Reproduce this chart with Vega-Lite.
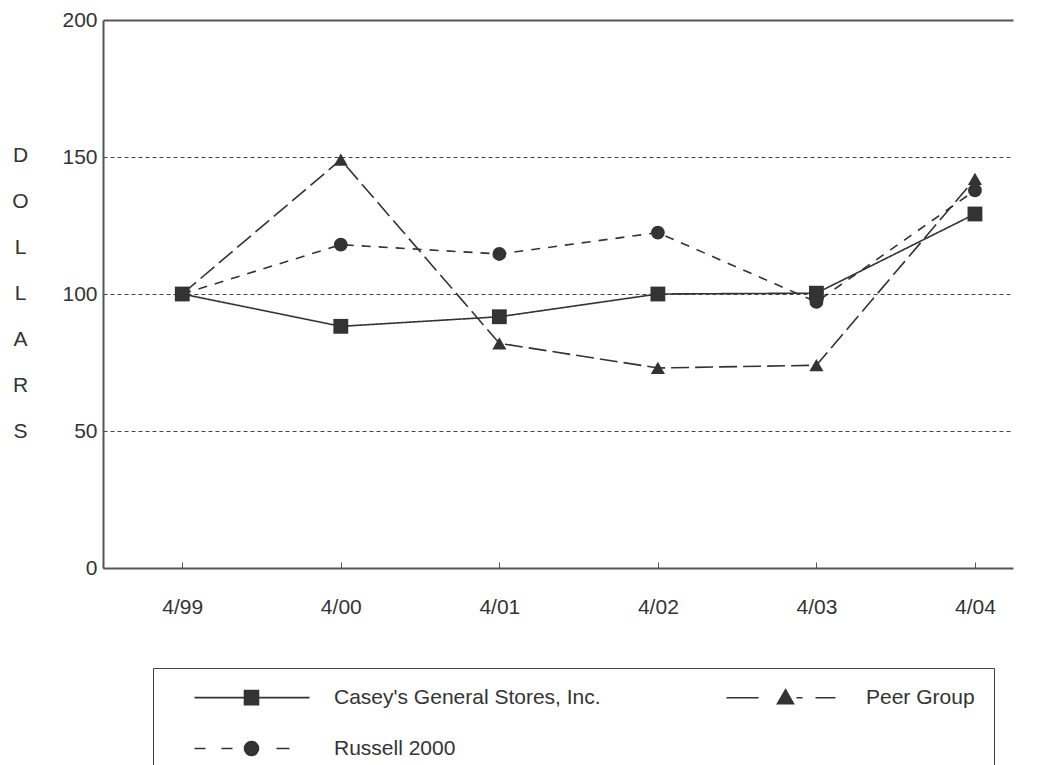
{
  "$schema": "https://vega.github.io/schema/vega-lite/v6.json",
  "autosize": "none",
  "width": 910,
  "height": 548,
  "padding": {"left": 103, "top": 20, "right": 30, "bottom": 197},
  "background": "white",
  "config": {"view": {"stroke": null}, "font": "Liberation Sans"},
  "data": {
    "values": [
      {"series": "Casey's General Stores, Inc.", "date": "4/99", "year": 1999, "value": 100},
      {"series": "Casey's General Stores, Inc.", "date": "4/00", "year": 2000, "value": 88.2},
      {"series": "Casey's General Stores, Inc.", "date": "4/01", "year": 2001, "value": 91.7},
      {"series": "Casey's General Stores, Inc.", "date": "4/02", "year": 2002, "value": 100},
      {"series": "Casey's General Stores, Inc.", "date": "4/03", "year": 2003, "value": 100.3},
      {"series": "Casey's General Stores, Inc.", "date": "4/04", "year": 2004, "value": 129.2},
      {"series": "Peer Group", "date": "4/99", "year": 1999, "value": 100},
      {"series": "Peer Group", "date": "4/00", "year": 2000, "value": 149},
      {"series": "Peer Group", "date": "4/01", "year": 2001, "value": 82},
      {"series": "Peer Group", "date": "4/02", "year": 2002, "value": 73},
      {"series": "Peer Group", "date": "4/03", "year": 2003, "value": 74},
      {"series": "Peer Group", "date": "4/04", "year": 2004, "value": 142},
      {"series": "Russell 2000", "date": "4/99", "year": 1999, "value": 100},
      {"series": "Russell 2000", "date": "4/00", "year": 2000, "value": 118},
      {"series": "Russell 2000", "date": "4/01", "year": 2001, "value": 114.6},
      {"series": "Russell 2000", "date": "4/02", "year": 2002, "value": 122.4},
      {"series": "Russell 2000", "date": "4/03", "year": 2003, "value": 97.1},
      {"series": "Russell 2000", "date": "4/04", "year": 2004, "value": 137.8}
    ]
  },
  "encoding": {
    "y": {
      "field": "value",
      "type": "quantitative",
      "scale": {"domain": [0, 200], "nice": false},
      "axis": {
        "values": [0, 50, 100, 150, 200],
        "ticks": false,
        "labelFontSize": 21,
        "labelColor": "#333",
        "labelPadding": 6,
        "domainColor": "#555",
        "domainWidth": 2,
        "grid": true,
        "gridColor": {"condition": {"test": "datum.value === 200", "value": "#555"}, "value": "#444"},
        "gridDash": {"condition": {"test": "datum.value === 200", "value": []}, "value": [4, 3]},
        "gridWidth": {"condition": {"test": "datum.value === 200", "value": 2}, "value": 1},
        "title": ["D", "O", "L", "L", "A", "R", "S"],
        "titleAngle": 0,
        "titleFontSize": 21,
        "titleFontWeight": "normal",
        "titleColor": "#333",
        "titleLineHeight": 46,
        "titleX": -83,
        "titleY": 135,
        "titleAlign": "center",
        "titleBaseline": "middle"
      }
    }
  },
  "layer": [
    {
      "mark": {"type": "line", "color": "#333", "strokeWidth": 1.6},
      "encoding": {
        "x": {
          "field": "year",
          "type": "quantitative",
          "scale": {"domain": [1998.5, 2004.24], "nice": false, "zero": false},
          "axis": {
            "values": [1999, 2000, 2001, 2002, 2003, 2004],
            "labelExpr": "'4/' + slice(toString(datum.value), 2)",
            "ticks": false,
            "labelFontSize": 21,
            "labelColor": "#333",
            "labelPadding": 28,
            "domainColor": "#555",
            "domainWidth": 2,
            "grid": false,
            "title": null
          }
        },
        "strokeDash": {
          "field": "series",
          "type": "nominal",
          "scale": {
            "domain": ["Casey's General Stores, Inc.", "Peer Group", "Russell 2000"],
            "range": [[1, 0], [18, 6], [9, 8]]
          },
          "legend": null
        }
      }
    },
    {
      "transform": [{"filter": "datum.series === \"Casey's General Stores, Inc.\""}],
      "mark": {"type": "point", "shape": "square", "filled": true, "color": "#333", "opacity": 1, "size": 220},
      "encoding": {
        "x": {
          "field": "year",
          "type": "quantitative",
          "axis": {
            "orient": "top",
            "offset": -548,
            "values": [1999, 2000, 2001, 2002, 2003, 2004],
            "labels": false,
            "domain": false,
            "ticks": true,
            "tickSize": 6,
            "tickColor": "#555",
            "tickWidth": 1,
            "grid": false,
            "title": null
          }
        }
      }
    },
    {
      "transform": [{"filter": "datum.series === 'Peer Group'"}],
      "mark": {"type": "point", "shape": "triangle-up", "filled": true, "color": "#333", "opacity": 1, "size": 200},
      "encoding": {"x": {"field": "year", "type": "quantitative", "axis": null}}
    },
    {
      "transform": [{"filter": "datum.series === 'Russell 2000'"}],
      "mark": {"type": "point", "shape": "circle", "filled": true, "color": "#333", "opacity": 1, "size": 190},
      "encoding": {"x": {"field": "year", "type": "quantitative", "axis": null}}
    },
    {
      "mark": {"type": "point", "filled": true, "color": "#333", "fillOpacity": 0, "strokeOpacity": 0},
      "encoding": {
        "x": {"field": "year", "type": "quantitative", "axis": null},
        "shape": {
          "field": "series",
          "type": "nominal",
          "scale": {
            "domain": ["Casey's General Stores, Inc.", "Russell 2000", "Peer Group"],
            "range": [
              "M2.4,0H25.4M12.4,-1.4H15.2V1.4H12.4Z",
              "M2.4,0H4.6M7.8,0H10M18.8,0H21.4M15.2,0C15.2,0.772 14.572,1.4 13.8,1.4C13.028,1.4 12.4,0.772 12.4,0C12.4,-0.772 13.028,-1.4 13.8,-1.4C14.572,-1.4 15.2,-0.772 15.2,0Z",
              "M2.4,0H8.8M16.4,0H17.6M20.2,0H24.2M14.2,-1.6L15.8,1.2L12.6,1.2Z"
            ]
          },
          "legend": {
            "orient": "none",
            "legendX": 50,
            "legendY": 648,
            "columns": 2,
            "title": null,
            "padding": 19,
            "strokeColor": "#444",
            "labelFontSize": 21,
            "labelColor": "#333",
            "labelOffset": 141,
            "labelLimit": 500,
            "rowPadding": 29,
            "columnPadding": 103,
            "symbolStrokeColor": "#333",
            "symbolStrokeWidth": 1.6,
            "symbolFillColor": "#333",
            "symbolOpacity": 1,
            "labelExpr": "datum.label == 'Peer Group' ? 'Peer Group\u00a0\u00a0\u00a0' : datum.label",
            "encoding": {
              "symbols": {"fill": {"value": "#333"}, "stroke": {"value": "#333"}, "strokeWidth": {"value": 1.6}, "fillOpacity": {"value": 1}, "strokeOpacity": {"value": 1}}
            }
          }
        }
      }
    }
  ],
  "resolve": {"axis": {"x": "independent"}}
}
